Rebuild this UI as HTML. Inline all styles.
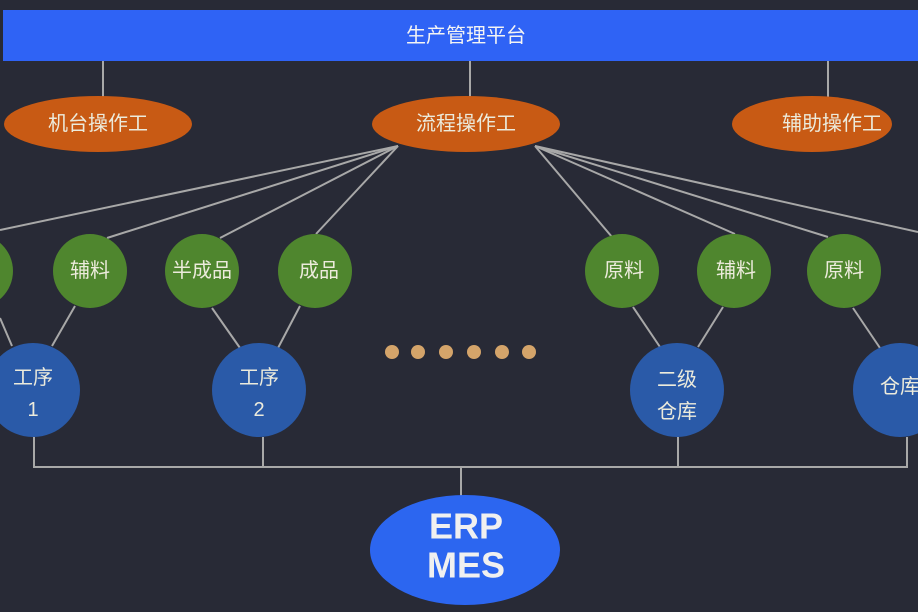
<!DOCTYPE html>
<html><head><meta charset="utf-8"><style>
html,body{margin:0;padding:0;background:#282a36;}
svg{display:block}
text{font-family:"Liberation Sans","Noto Sans CJK SC",sans-serif;fill:#ecebdc;text-anchor:middle;dominant-baseline:central}
</style></head><body>
<svg width="918" height="612" viewBox="0 0 918 612">
<rect width="918" height="612" fill="#282a36"/>
<rect x="3" y="10" width="915" height="51" fill="#2f63f5"/>
<text x="466" y="36" font-size="20" style="fill:#f4f4f4">生产管理平台</text>
<g stroke="#a8a8a8" stroke-width="2" fill="none">
<line x1="103" y1="61" x2="103" y2="98"/>
<line x1="470" y1="61" x2="470" y2="98"/>
<line x1="828" y1="61" x2="828" y2="98"/>
<line x1="398" y1="146" x2="0" y2="230"/>
<line x1="398" y1="146" x2="107" y2="238"/>
<line x1="398" y1="146" x2="220" y2="238"/>
<line x1="398" y1="146" x2="316" y2="234"/>
<line x1="535" y1="146" x2="612" y2="237"/>
<line x1="535" y1="146" x2="735" y2="234"/>
<line x1="535" y1="146" x2="828" y2="237"/>
<line x1="535" y1="146" x2="918" y2="232"/>
<line x1="75" y1="306" x2="52" y2="346"/>
<line x1="212" y1="308" x2="240" y2="348"/>
<line x1="300" y1="306" x2="278" y2="348"/>
<line x1="633" y1="307" x2="660" y2="347"/>
<line x1="723" y1="307" x2="698" y2="347"/>
<line x1="853" y1="308" x2="880" y2="348"/>
<line x1="0" y1="318" x2="12" y2="346"/>
<polyline points="34,437 34,467 907,467 907,437"/>
<line x1="263" y1="437" x2="263" y2="467"/>
<line x1="678" y1="437" x2="678" y2="467"/>
<line x1="461" y1="467" x2="461" y2="497"/>
</g>
<g fill="#c85a14">
<ellipse cx="98" cy="124" rx="94" ry="28"/>
<ellipse cx="466" cy="124" rx="94" ry="28"/>
<ellipse cx="812" cy="124" rx="80" ry="28"/>
</g>
<text x="98" y="124" font-size="20">机台操作工</text>
<text x="466" y="124" font-size="20">流程操作工</text>
<text x="832" y="124" font-size="20">辅助操作工</text>
<g fill="#4f862e">
<circle cx="-24" cy="271" r="37"/>
<circle cx="90" cy="271" r="37"/>
<circle cx="202" cy="271" r="37"/>
<circle cx="315" cy="271" r="37"/>
<circle cx="622" cy="271" r="37"/>
<circle cx="734" cy="271" r="37"/>
<circle cx="844" cy="271" r="37"/>
</g>
<g font-size="20">
<text x="90" y="271">辅料</text>
<text x="202" y="271">半成品</text>
<text x="319" y="271">成品</text>
<text x="624" y="271">原料</text>
<text x="736" y="271">辅料</text>
<text x="844" y="271">原料</text>
</g>
<g fill="#2a5aa8">
<circle cx="33" cy="390" r="47"/>
<circle cx="259" cy="390" r="47"/>
<circle cx="677" cy="390" r="47"/>
<circle cx="900" cy="390" r="47"/>
</g>
<g font-size="20">
<text x="33" y="378">工序</text><text x="33" y="410">1</text>
<text x="259" y="378">工序</text><text x="259" y="410">2</text>
<text x="677" y="380">二级</text><text x="677" y="412">仓库</text>
<text x="900" y="387">仓库</text>
</g>
<g fill="#d4a46a">
<circle cx="392" cy="352" r="7"/><circle cx="418" cy="352" r="7"/><circle cx="446" cy="352" r="7"/>
<circle cx="474" cy="352" r="7"/><circle cx="502" cy="352" r="7"/><circle cx="529" cy="352" r="7"/>
</g>
<ellipse cx="465" cy="550" rx="95" ry="55" fill="#2c66f0"/>
<text x="466" y="526" font-size="36" font-weight="bold" style="fill:#f0f0f0">ERP</text>
<text x="466" y="565" font-size="36" font-weight="bold" style="fill:#f0f0f0">MES</text>
</svg>
</body></html>
